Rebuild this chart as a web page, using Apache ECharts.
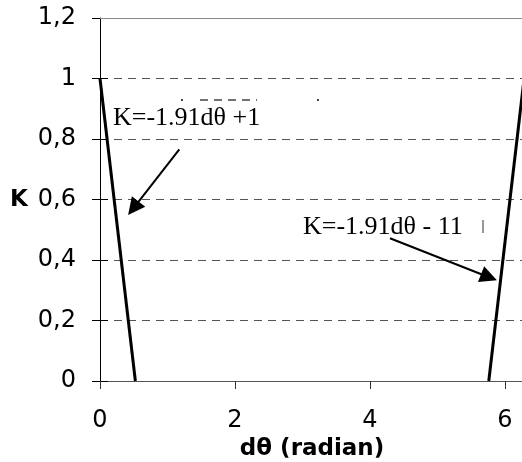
<!DOCTYPE html>
<html><head><meta charset="utf-8">
<script src="https://cdn.jsdelivr.net/npm/echarts@6/dist/echarts.min.js"></script>
<style>html,body{margin:0;padding:0;background:#fff}#c{width:522px;height:462px}</style>
</head><body><div id="c"></div>
<script>
// Data
const leftX = [0, 0.524];
const leftK = [1, 0];
const rightX = [5.76, 6.2832];
const rightK = [0, 1];
const xTicks = [0, 2, 4, 6];
const yTicks = [0, 0.2, 0.4, 0.6, 0.8, 1, 1.2];
const label1 = 'K=-1.91dθ +1';
const label2 = 'K=-1.91dθ - 11';
const arrow1 = [[1.175, 0.766], [0.494, 0.571]];
const arrow2 = [[4.296, 0.472], [5.763, 0.343]];
const yTop = 1.2;

const chart = echarts.init(document.getElementById('c'), null, {renderer: 'canvas'});
const sansFont = 'DejaVu Sans';
const lab = {color: '#000', fontFamily: sansFont, fontSize: 24};

chart.setOption({
  animation: false,
  backgroundColor: '#fff',
  grid: {left: 100, top: 18, bottom: 81, right: -2.1, outerBoundsMode: 'none', containLabel: false},
  xAxis: {
    type: 'value', min: 0, max: 2 * Math.PI,
    axisLine: {onZero: false, lineStyle: {color: '#555', width: 1}},
    axisTick: {show: true, length: 8, lineStyle: {color: '#333'}, customValues: xTicks},
    axisLabel: Object.assign({}, lab, {margin: 28, customValues: xTicks}),
    splitLine: {show: false},
    name: 'dθ (radian)', nameLocation: 'middle', nameGap: 56,
    nameTextStyle: {color: '#000', fontFamily: sansFont, fontSize: 23, fontWeight: 'bold'}
  },
  yAxis: [{
    type: 'value', min: 0, max: yTop, interval: 0.2,
    axisLine: {show: true, onZero: false, lineStyle: {color: '#000', width: 1}},
    axisTick: {show: true, length: 8, lineStyle: {color: '#000'}},
    axisLabel: Object.assign({}, lab, {margin: 24, formatter: v => String(+v.toFixed(1)).replace('.', ',')}),
    splitLine: {show: true, showMaxLine: false, showMinLine: false, lineStyle: {color: '#555', type: [8, 6], width: 1}}
  }, {
    type: 'value', min: 0, max: yTop, interval: 0.2, position: 'left',
    axisLine: {show: false, onZero: false},
    axisTick: {show: true, inside: true, length: 8, lineStyle: {color: '#000'}},
    axisLabel: {show: false}, splitLine: {show: false}
  }],
  series: [{
    type: 'line', data: leftX.map((x, i) => [x, leftK[i]]),
    symbol: 'none', lineStyle: {color: '#000', width: 3},
    markLine: {
      silent: true, symbol: 'none', label: {show: false},
      lineStyle: {color: '#888', type: 'solid', width: 1},
      data: [{yAxis: yTop}]
    }
  }, {
    type: 'line', data: rightX.map((x, i) => [x, rightK[i]]),
    symbol: 'none', lineStyle: {color: '#000', width: 3}
  }, {
    type: 'lines', coordinateSystem: 'cartesian2d',
    symbol: ['none', 'triangle'], symbolSize: [13, 17],
    lineStyle: {color: '#000', width: 2, opacity: 1},
    data: [{coords: arrow1}, {coords: arrow2}]
  }],
  graphic: [
    {type: 'text', left: 10, top: 189, style: {text: 'K', fill: '#000', font: 'bold 23px "DejaVu Sans"'}},
    {type: 'text', x: 113, y: 118, style: {text: label1, fill: '#000', font: '26px "Liberation Serif"', verticalAlign: 'middle'}},
    {type: 'text', x: 303, y: 227, style: {text: label2, fill: '#000', font: '26px "Liberation Serif"', verticalAlign: 'middle'}},
    {type: 'line', shape: {x1: 483, y1: 220, x2: 483, y2: 233}, style: {stroke: '#333', lineWidth: 1}},
    {type: 'rect', shape: {x: 181, y: 99, width: 2, height: 2}, style: {fill: '#444'}},
    {type: 'line', shape: {x1: 200, y1: 100, x2: 257, y2: 100}, style: {stroke: '#444', lineWidth: 1.5, lineDash: [8, 6]}},
    {type: 'rect', shape: {x: 317, y: 99, width: 2, height: 2}, style: {fill: '#444'}}
  ]
});
</script></body></html>
